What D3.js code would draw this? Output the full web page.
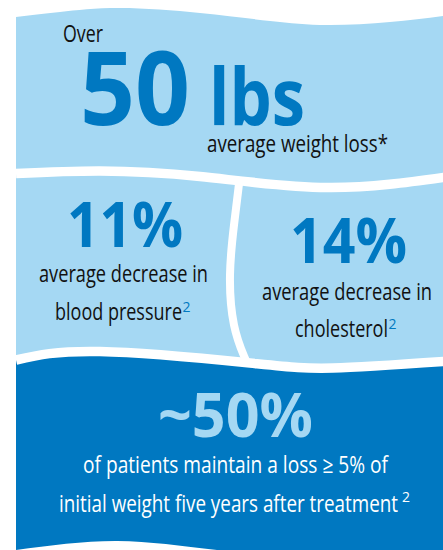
<!DOCTYPE html>
<html>
<head>
<meta charset="utf-8">
<script src="https://cdn.jsdelivr.net/npm/d3@7"></script>
<style>
  html, body { margin: 0; padding: 0; background: #fff; }
  svg { display: block; }
  text { font-family: "Open Sans", "Noto Sans", sans-serif; }
</style>
</head>
<body>
<svg id="chart" width="443" height="550"></svg>
<script>
// stats shown on the card
const statValues = [50, 11, 14, 50];
const statPrefixes = ["", "", "", "~"];
const statUnits = ["lbs", "%", "%", "%"];
const statLeads = ["Over", "", "", ""];
const captionLines = [
  ["average weight loss*"],
  ["average decrease in", "blood pressure"],
  ["average decrease in", "cholesterol"],
  ["of patients maintain a loss \u2265 5% of", "initial weight five years after treatment"]
];
const footnotes = ["", "2", "2", "2"];

var lightBlue = "#a5d8f3",
  darkBlue = "#0078c1",
  ink = "#111";

// wavy panel edges (layout)
var topEdge = [[16, 17], [60, 12], [120, 8], [200, 13], [270, 21], [327, 25], [390, 22], [450, 15]];
var gapOne = [[16, 173.5], [100, 171], [200, 176.5], [327, 187.5], [450, 176.5]];
var gapTwo = [[16, 360], [100, 351.5], [250, 363], [333, 368], [450, 361]];
var bottomEdge = [[16, 550], [117, 541], [217, 550], [333, 557], [450, 552]];
var divider = [[239.5, 179], [238.5, 188], [234, 225], [230, 275], [234, 325], [244, 356], [247, 363]];

var svg = d3.select("#chart");

var area = d3.area()
  .x(d => d[0])
  .y0(600)
  .y1(d => d[1])
  .curve(d3.curveNatural);
var line = d3.line()
  .x(d => d[0])
  .y(d => d[1])
  .curve(d3.curveNatural);

svg.append("path").attr("d", area(topEdge)).attr("fill", lightBlue);
svg.append("path").attr("d", area(gapTwo)).attr("fill", darkBlue);
svg.append("path").attr("d", area(bottomEdge)).attr("fill", "#fff");

svg.selectAll(".gap")
  .data([gapOne, gapTwo])
  .enter()
  .append("path")
  .attr("class", "gap")
  .attr("d", line)
  .attr("fill", "none")
  .attr("stroke", "#fff")
  .attr("stroke-width", 9.5);

svg.append("path")
  .attr("d", line(divider))
  .attr("fill", "none")
  .attr("stroke", "#fff")
  .attr("stroke-width", 8);

// where each block sits: number, caption lines, footnote mark
var blocks = [
  { lead: [63, 42, 40], num: [80, 125, 110, 102], unit: [209, 125, 96, 78],
    lines: [[207, 152, 181]], sup: null, numColor: darkBlue, textColor: ink },
  { num: [67, 247, 116, 62], lines: [[39, 282, 169], [55, 320, 127]],
    sup: [182.5, 312], numColor: darkBlue, textColor: ink },
  { num: [290, 263, 117, 62], lines: [[262, 300, 170], [295, 337, 93]],
    sup: [388.5, 329], numColor: darkBlue, textColor: ink },
  { num: [158, 437, 155, 60], lines: [[83, 473, 305], [59, 512, 339]],
    sup: [402, 502], numColor: lightBlue, textColor: "#fff" }
];

function fitText(g, str, pos, size, weight, color) {
  g.append("text")
    .attr("x", pos[0])
    .attr("y", pos[1])
    .attr("textLength", pos[2])
    .attr("lengthAdjust", "spacingAndGlyphs")
    .attr("font-size", size)
    .attr("font-weight", weight)
    .attr("fill", color)
    .text(str);
}

blocks.forEach((b, i) => {
  var g = svg.append("g");
  if (statLeads[i]) fitText(g, statLeads[i], b.lead, 23, 400, b.textColor);
  if (i === 0) {
    fitText(g, statPrefixes[i] + statValues[i], b.num, b.num[3], 700, b.numColor);
    fitText(g, statUnits[i], b.unit, b.unit[3], 700, b.numColor);
  } else {
    fitText(g, statPrefixes[i] + statValues[i] + statUnits[i], b.num, b.num[3], 700, b.numColor);
  }
  captionLines[i].forEach((t, j) => fitText(g, t, b.lines[j], 23, 400, b.textColor));
  if (b.sup && footnotes[i]) {
    g.append("text")
      .attr("x", b.sup[0])
      .attr("y", b.sup[1])
      .attr("font-size", 14)
      .attr("fill", i === 3 ? "#fff" : darkBlue)
      .text(footnotes[i]);
  }
});
</script>
</body>
</html>
